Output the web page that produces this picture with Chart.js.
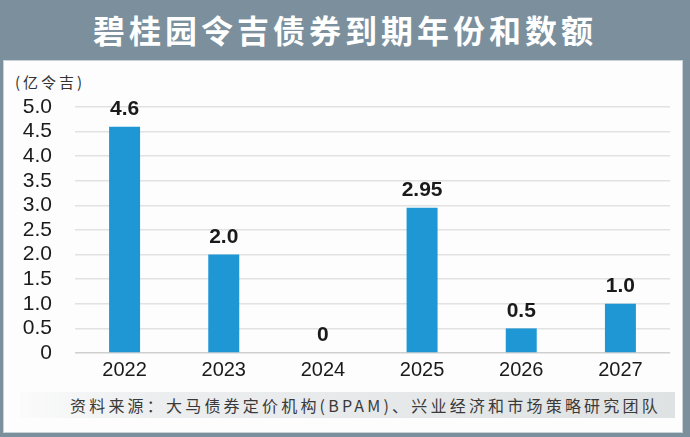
<!DOCTYPE html>
<html><head><meta charset="utf-8">
<script src="https://cdn.jsdelivr.net/npm/chart.js@4.4.0/dist/chart.umd.min.js"></script>
<style>
html,body{margin:0;padding:0;background:#fff;}
#wrap{position:relative;width:690px;height:437px;background:#7b8f9c;overflow:hidden;font-family:"Liberation Sans",Arial,sans-serif;}
#panel{position:absolute;left:3px;top:60px;width:680px;height:373px;background:#fdfdfd;box-shadow:inset 0 0 0 1px #c9d2d7;}
#title{position:absolute;left:0;top:0;width:690px;height:58px;line-height:58px;text-align:center;color:#fff;font-family:"Noto Sans CJK SC",sans-serif;font-weight:700;font-size:32px;letter-spacing:4px;}
#unit{position:absolute;left:15px;top:71px;font-family:"Noto Sans CJK SC",sans-serif;font-size:15px;color:#333;letter-spacing:3px;}
#foot{position:absolute;left:20px;top:392px;width:655px;height:26px;background:linear-gradient(to right,#fbfbfb 0%,#eceeef 20%,#dfe2e3 100%);}
#foottext{position:absolute;left:70px;top:392px;height:26px;line-height:26px;font-family:"Noto Sans CJK SC",serif;font-size:16px;color:#3a3a3a;letter-spacing:3.2px;white-space:nowrap;}
canvas{position:absolute;left:0;top:0;}
</style></head>
<body>
<div id="wrap">
  <div id="panel"></div>
  <div id="title">碧桂园令吉债券到期年份和数额</div>
  <div id="unit">(亿令吉)</div>
  <div id="foot"></div>
  <div id="foottext">资料来源：大马债券定价机构(BPAM)、兴业经济和市场策略研究团队</div>
  <canvas id="c" width="690" height="437"></canvas>
</div>
<script>
const years = ["2022","2023","2024","2025","2026","2027"];
const amounts = [4.6, 2.0, 0, 2.95, 0.5, 1.0];
const valueLabels = ["4.6","2.0","0","2.95","0.5","1.0"];
const yTicks = [0,0.5,1.0,1.5,2.0,2.5,3.0,3.5,4.0,4.5,5.0];

const labelPlugin = {
  id:'vlabels',
  afterDatasetsDraw(chart){
    const ctx = chart.ctx;
    const meta = chart.getDatasetMeta(0);
    ctx.save();
    ctx.font = 'bold 21px "Liberation Sans", Arial, sans-serif';
    ctx.fillStyle = '#1a1a1a';
    ctx.textAlign = 'center';
    ctx.textBaseline = 'bottom';
    meta.data.forEach((bar,i)=>{
      ctx.fillText(valueLabels[i], bar.x, bar.y - 7);
    });
    ctx.restore();
  }
};

new Chart(document.getElementById('c'), {
  type:'bar',
  data:{labels:years, datasets:[{data:amounts, backgroundColor:'#1f97d5', borderWidth:0, categoryPercentage:1, barPercentage:0.3125}]},
  options:{
    responsive:false, animation:false,
    layout:{padding:{left:0,right:20,top:107,bottom:0}},
    plugins:{legend:{display:false}, tooltip:{enabled:false}},
    scales:{
      x:{
        grid:{display:false, drawTicks:false, drawBorder:false, tickColor:'transparent'},
        border:{display:false, color:'transparent', width:0},
        ticks:{color:'#1a1a1a', font:{size:20, family:'"Liberation Sans", Arial, sans-serif'}, padding:5},
        afterFit(s){ s.height = 84; }
      },
      y:{
        min:0, max:5,
        afterBuildTicks(s){ s.ticks = yTicks.map(v=>({value:v})); },
        grid:{drawTicks:false, drawBorder:false, tickColor:'transparent', color:(c)=> c.tick && c.tick.value===0 ? '#cfcfcf' : '#e2e2e2', lineWidth:1.5},
        border:{display:false, color:'transparent', width:0},
        ticks:{autoSkip:false, color:'#1a1a1a', padding:23, font:{size:21, family:'"Liberation Sans", Arial, sans-serif'},
          callback:(v)=> v===0 ? '0' : Number(v).toFixed(1)},
        afterFit(s){ s.width = 75; }
      }
    }
  },
  plugins:[labelPlugin]
});
</script>
</body></html>
